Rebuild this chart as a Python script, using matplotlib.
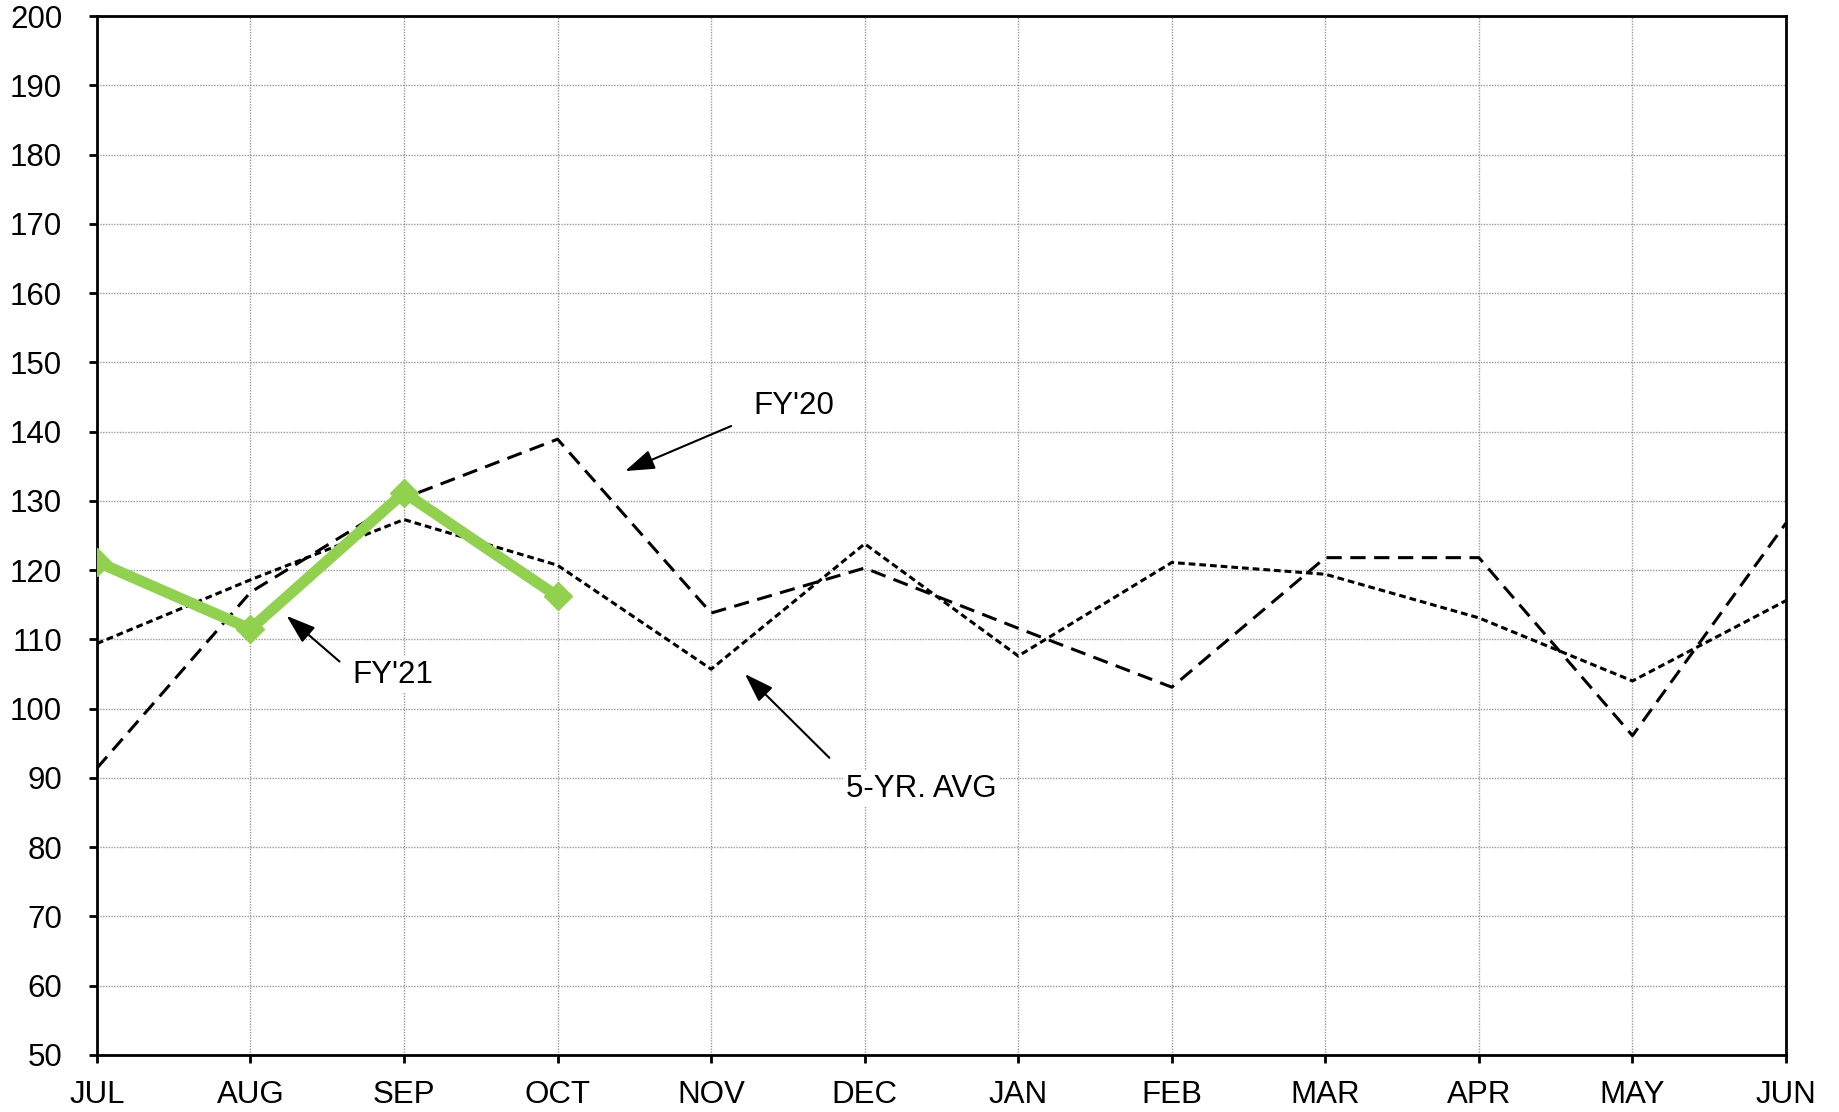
#!/usr/bin/env python3
import matplotlib
matplotlib.use("Agg")
import matplotlib.pyplot as plt

# -----------------------------------------------------------------------------
# Data
# -----------------------------------------------------------------------------

months = ["JUL", "AUG", "SEP", "OCT", "NOV", "DEC",
          "JAN", "FEB", "MAR", "APR", "MAY", "JUN"]

fy21 = [121.2, 111.5, 131.2, 116.2]
fy20 = [91.4, 116.8, 130.4, 138.9, 113.8, 120.3,
        111.6, 103.1, 121.8, 121.8, 96.1, 126.8]
avg5 = [109.4, 118.6, 127.3, 120.7, 105.7, 123.8,
        107.6, 121.1, 119.4, 113.1, 104.0, 115.6]

y_ticks = list(range(50, 201, 10))

# label text, text position, arrow tail, arrow head (data coords)
notes = [
    ("FY'20", (4.54, 143.7), (4.13, 140.8), (3.44, 134.3)),
    ("FY'21", (1.93, 104.9), (1.58, 106.8), (1.235, 113.4)),
    ("5-YR. AVG", (5.37, 88.4), (4.77, 92.9), (4.22, 105.0)),
]

# -----------------------------------------------------------------------------
# Plot
# -----------------------------------------------------------------------------

plt.rcParams["font.family"] = ["Liberation Sans", "DejaVu Sans"]
plt.rcParams["font.size"] = 22.5

fig = plt.figure(figsize=(18.39, 11.12), dpi=100)
ax = fig.add_axes([0.0527, 0.0513, 0.9185, 0.9343])

x_all = list(range(len(months)))
ax.plot(x_all, fy20, color="black", lw=2.2, dashes=(5, 2.8), zorder=3)
ax.plot(x_all, avg5, color="black", lw=2.2, dashes=(2.2, 1.3), zorder=3)
ax.plot(x_all[:len(fy21)], fy21, color="#92D050", lw=8, marker="D",
        markersize=14, zorder=4)

for label, txt, tail, head in notes:
    ax.annotate("", xy=head, xytext=tail,
                arrowprops=dict(arrowstyle="-|>,head_length=0.8,head_width=0.27",
                                color="black", lw=1.5, shrinkA=0, shrinkB=0),
                zorder=5)
    ax.text(txt[0], txt[1], label, ha="center", va="center", zorder=5,
            bbox=dict(facecolor="white", edgecolor="none", pad=2))

ax.set_xlim(0, len(months) - 1)
ax.set_ylim(50, 200)
ax.set_xticks(x_all)
ax.set_xticklabels(months)
ax.set_yticks(y_ticks)

ax.grid(True, color="#9a9a9a", lw=1, linestyle=(0, (1, 1)), zorder=0)
ax.set_axisbelow(True)

for side in ax.spines.values():
    side.set_linewidth(2)
ax.tick_params(axis="both", direction="out", length=6, width=2)
ax.tick_params(axis="x", pad=12)
ax.tick_params(axis="y", pad=19)

fig.savefig("out.png", dpi=100)
